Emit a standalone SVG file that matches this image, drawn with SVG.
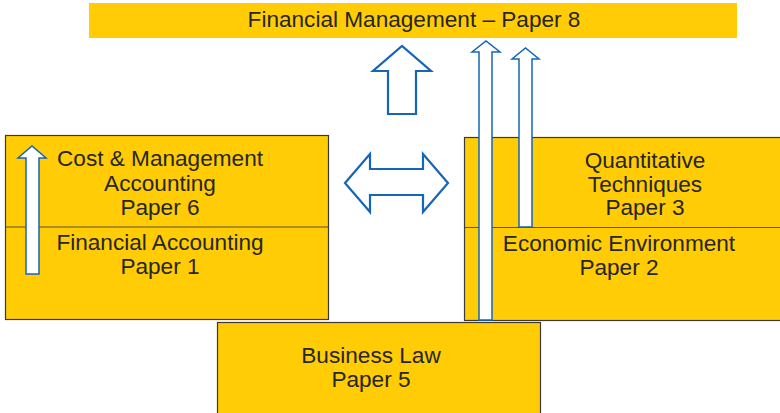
<svg xmlns="http://www.w3.org/2000/svg" width="780" height="413" viewBox="0 0 780 413">
<style>
.box{fill:#FFCC05;stroke:#3a3a3a;stroke-width:1.2}
.div{stroke:#5a5040;stroke-width:1.2}
.t{font-family:"Liberation Sans",Arial,sans-serif;font-size:22.6px;fill:#262626;text-anchor:middle}
.arr{fill:#ffffff;stroke:#1565B8;stroke-width:1.5}
.big{fill:#ffffff;stroke:#1565B8;stroke-width:2.2}
</style>
<rect width="780" height="413" fill="#ffffff"/>
<g id="fm">
<rect x="89" y="3" width="648" height="35" fill="#FFCC05"/>
<text class="t" x="414" y="27">Financial Management – Paper 8</text>
</g>
<g id="left">
<rect class="box" x="5.5" y="135.5" width="323" height="184"/>
<line class="div" x1="5.5" y1="227" x2="328.5" y2="227"/>
<text class="t" x="160" y="166">Cost &amp; Management</text>
<text class="t" x="160" y="191">Accounting</text>
<text class="t" x="160" y="215">Paper 6</text>
<text class="t" x="160" y="250">Financial Accounting</text>
<text class="t" x="160" y="274">Paper 1</text>
</g>
<g id="right">
<rect class="box" x="464.5" y="137.5" width="320" height="183"/>
<line class="div" x1="464.5" y1="227.5" x2="780" y2="227.5"/>
<text class="t" x="645" y="168">Quantitative</text>
<text class="t" x="645" y="192">Techniques</text>
<text class="t" x="645" y="215">Paper 3</text>
<text class="t" x="619" y="251">Economic Environment</text>
<text class="t" x="619" y="275">Paper 2</text>
</g>
<g id="bl">
<rect class="box" x="217.5" y="322.5" width="323" height="95"/>
<text class="t" x="371" y="363">Business Law</text>
<text class="t" x="371" y="387">Paper 5</text>
</g>
<g id="connectors">
<polygon class="arr" points="26,274 26,158 18,158 32,146 46,158 39,158 39,274"/>
<polygon class="arr" points="479,320 479,52 472,52 486,41 500,52 492,52 492,320"/>
<polygon class="arr" points="519,227 519,59 512,59 525.5,48 539,59 532,59 532,227"/>
<polygon class="big" points="388,114 388,71 373,71 402,46 431,71 416,71 416,114"/>
<polygon class="big" points="345,183 370,154 370,169 423,169 423,154 448,183 423,212 423,195 370,195 370,212"/>
</g>
</svg>
